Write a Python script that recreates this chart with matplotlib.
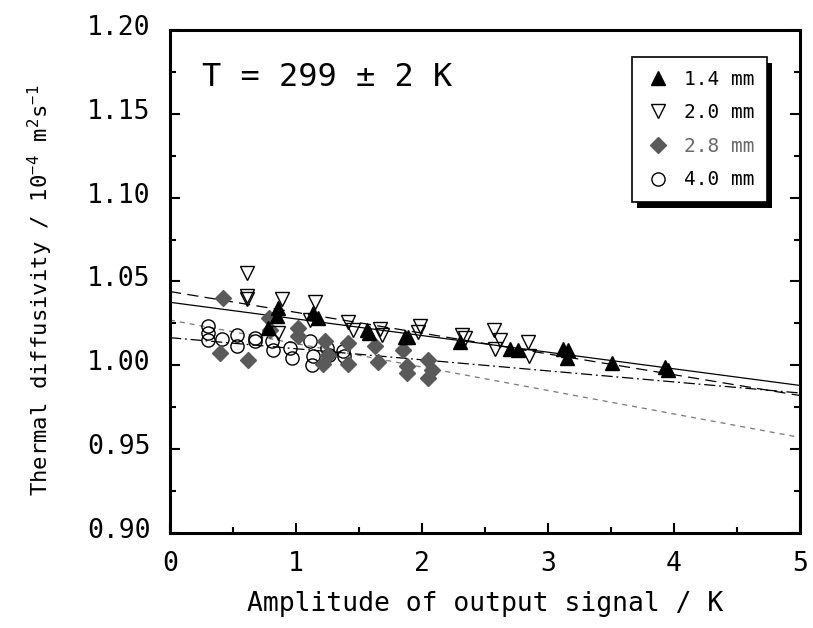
import matplotlib
matplotlib.use("Agg")
import matplotlib.pyplot as plt
import numpy as np
from matplotlib.patches import Rectangle
from matplotlib.transforms import IdentityTransform, ScaledTranslation
from matplotlib.ticker import MultipleLocator

plt.rcParams['font.family'] = ['DejaVu Sans Mono']
plt.rcParams['mathtext.fontset'] = 'custom'
plt.rcParams['mathtext.rm'] = 'DejaVu Sans Mono'
plt.rcParams['mathtext.it'] = 'DejaVu Sans Mono'

# ---- data ----
x_14 = [0.78, 0.847, 0.86, 1.137, 1.177, 1.561, 1.58, 1.865, 1.891, 2.302, 2.698, 2.764,
        3.121, 3.161, 3.148, 3.506, 3.929, 3.955]
y_14 = [1.0224, 1.0293, 1.0343, 1.0313, 1.0283, 1.0213, 1.0195, 1.0169, 1.0169, 1.0138,
        1.0098, 1.0094, 1.0098, 1.0090, 1.0044, 1.0014, 0.9990, 0.9970]

x_20 = [0.608, 0.608, 0.614, 0.886, 0.86, 1.151, 1.111, 1.415, 1.450, 1.667, 1.680,
        1.984, 1.971, 2.315, 2.341, 2.574, 2.619, 2.579, 2.844, 2.852]
y_20 = [1.0548, 1.0412, 1.0393, 1.0397, 1.019, 1.0376, 1.0273, 1.0257, 1.0213, 1.0217,
        1.0183, 1.0233, 1.0197, 1.0183, 1.0163, 1.0213, 1.0150, 1.0098, 1.0138, 1.0058]

x_28 = [0.418, 0.397, 0.621, 0.786, 0.794, 1.018, 1.018, 1.230, 1.217, 1.25, 1.415, 1.415,
        1.627, 1.653, 1.852, 1.878, 1.878, 2.050, 2.077, 2.050]
y_28 = [1.0403, 1.0074, 1.0034, 1.0283, 1.0213, 1.0224, 1.0174, 1.0144, 1.0010, 1.0060,
        1.0134, 1.0010, 1.0114, 1.0020, 1.0094, 0.9994, 0.9954, 1.0034, 0.9974, 0.9925]

x_40 = [0.304, 0.304, 0.304, 0.410, 0.529, 0.529, 0.675, 0.675, 0.807, 0.820, 0.952, 0.966,
        1.111, 1.132, 1.125, 1.243, 1.264, 1.376, 1.383]
y_40 = [1.0237, 1.0193, 1.0153, 1.0157, 1.0183, 1.0114, 1.0163, 1.0144, 1.0144, 1.0094,
        1.0104, 1.0044, 1.0144, 1.0054, 1.0004, 1.0104, 1.0064, 1.0084, 1.0054]

# linear fits: value at 0 K and value at 5 K
fit_x = [0.0, 5.0]
fit_14 = [1.0376, 0.9880]
fit_20 = [1.0440, 0.9820]
fit_28 = [1.0270, 0.9570]
fit_40 = [1.0165, 0.9835]

labels = ['1.4 mm', '2.0 mm', '2.8 mm', '4.0 mm']
x_ticks = [0, 1, 2, 3, 4, 5]
y_ticks = [0.90, 0.95, 1.00, 1.05, 1.10, 1.15, 1.20]

gray = '#5a5a5a'

fig = plt.figure(figsize=(8.13, 6.28), dpi=100)
ax = fig.add_axes([170/813, 95/628, 630/813, 503/628])

ax.plot(fit_x, fit_14, color='black', lw=0.9, ls='-', zorder=2)
ax.plot(fit_x, fit_20, color='black', lw=0.9, ls=(0, (9, 5)), zorder=2)
ax.plot(fit_x, fit_28, color='#777777', lw=0.9, ls=(0, (4, 4)), zorder=2)
ax.plot(fit_x, fit_40, color='black', lw=0.9, ls=(0, (9, 3, 1.5, 3)), zorder=2)

h40, = ax.plot(x_40, y_40, 'o', ms=9.5, mfc='none', mec='black', mew=1.0, ls='none', zorder=3)
h28, = ax.plot(x_28, y_28, 'D', ms=8, mfc=gray, mec=gray, ls='none', zorder=3)
h14, = ax.plot(x_14, y_14, '^', ms=9.5, mfc='black', mec='black', ls='none', zorder=3)
h20, = ax.plot(x_20, y_20, 'v', ms=10.5, mfc='none', mec='black', mew=1.0, ls='none', zorder=3)

ax.set_xlim(0, 5)
ax.set_ylim(0.90, 1.20)
ax.set_xticks(x_ticks)
ax.set_yticks(y_ticks)
ax.set_xticklabels([str(v) for v in x_ticks])
ax.set_yticklabels(['%.2f' % v for v in y_ticks])
ax.xaxis.set_minor_locator(MultipleLocator(0.5))
ax.yaxis.set_minor_locator(MultipleLocator(0.025))

for s in ax.spines.values():
    s.set_linewidth(2.2)
ax.tick_params(which='both', direction='in', width=1.5, left=True, right=True,
               top=False, bottom=True, labelsize=19)
ax.tick_params(which='major', length=7.5)
ax.tick_params(which='minor', length=4)
ax.tick_params(axis='y', pad=14)
ax.tick_params(axis='x', pad=13)

ax.set_xlabel('Amplitude of output signal / K', fontsize=19)
ax.set_ylabel(r'Thermal diffusivity / 10$^{-4}$ m$^{2}$s$^{-1}$', fontsize=16)
ax.xaxis.set_label_coords(0.5, -(604 - 533) / 503)
ax.xaxis.label.set_va('center')
ax.yaxis.set_label_coords(-(170 - 40) / 630, (533 - 290) / 503)
ax.yaxis.label.set_va('center')

ax.text((202 - 170) / 630, (533 - 78) / 503, 'T = 299 ± 2 K', transform=ax.transAxes,
        fontsize=23, ha='left', va='center')

leg = ax.legend([h14, h20, h28, h40], labels, loc='upper right',
                bbox_to_anchor=((767 - 170) / 630, (533 - 57) / 503),
                fontsize=14, frameon=True, fancybox=False, shadow=False,
                framealpha=1.0, borderaxespad=0.0,
                handletextpad=0.7, borderpad=0.65, labelspacing=0.75,
                handlelength=1.3, markerscale=1.0)
leg.get_frame().set_edgecolor('black')
leg.get_frame().set_facecolor('white')
leg.get_frame().set_linewidth(1.2)
leg.set_zorder(10)
leg.get_texts()[2].set_color('#6a6a6a')

# shift y tick labels slightly upward like the reference
off = ScaledTranslation(0, 5 / 100, fig.dpi_scale_trans)
for t in ax.yaxis.get_major_ticks():
    t.label1.set_transform(t.label1.get_transform() + off)

fig.canvas.draw()
bb = leg.get_frame().get_window_extent()
shadow = Rectangle((bb.x0 + 5, bb.y0 - 6), bb.width, bb.height, transform=IdentityTransform(),
                   facecolor='black', edgecolor='none', zorder=9, clip_on=False)
ax.add_artist(shadow)

fig.savefig('out.png', dpi=100)
